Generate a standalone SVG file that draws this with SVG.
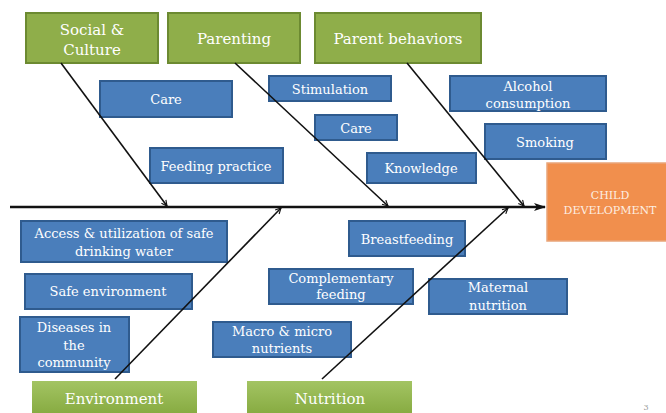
<svg xmlns="http://www.w3.org/2000/svg" width="666" height="413" viewBox="0 0 666 413">
<defs>
<linearGradient id="gg" x1="0" y1="0" x2="0" y2="1">
<stop offset="0" stop-color="#a3c463"/>
<stop offset="1" stop-color="#86aa40"/>
</linearGradient>
<marker id="ah" viewBox="0 0 10 10" refX="9" refY="5" markerWidth="7" markerHeight="7" orient="auto" markerUnits="userSpaceOnUse">
<path d="M1,1 L9,5 L1,9" fill="none" stroke="#111" stroke-width="1.6"/>
</marker>
<marker id="sp" viewBox="0 0 12 10" refX="11" refY="5" markerWidth="12" markerHeight="10" orient="auto" markerUnits="userSpaceOnUse">
<path d="M0,1 L12,5 L0,9 L3,5 Z" fill="#111"/>
</marker>
</defs>
<style>
.g{fill:#8fae4a;stroke:#6c8a31;stroke-width:2}
.gb{fill:url(#gg);stroke:none}
.b{fill:#4a7ebb;stroke:#2f5b8e;stroke-width:2}
.o{fill:#f18f4d;stroke:#e9a57a;stroke-width:1.5}
text{font-family:"DejaVu Serif",serif;fill:#fff;text-anchor:middle}
.t{font-size:13px}
.tg{font-size:15px}
.to{font-size:11px;fill:#fdeee2}
.ln{stroke:#111;stroke-width:1.6;fill:none}
</style>
<rect width="666" height="413" fill="#fff"/>
<g id="social"><rect class="g" x="26" y="13" width="132" height="50"/><text class="tg" x="92" y="35">Social &amp;</text><text class="tg" x="92" y="55">Culture</text></g>
<g id="parenting"><rect class="g" x="168" y="13" width="132" height="50"/><text class="tg" x="234" y="44">Parenting</text></g>
<g id="parentbeh"><rect class="g" x="315" y="13" width="166" height="50"/><text class="tg" x="398" y="44">Parent behaviors</text></g>
<g id="care1"><rect class="b" x="100" y="81" width="132" height="36"/><text class="t" x="166" y="104">Care</text></g>
<g id="feeding"><rect class="b" x="150" y="148" width="133" height="35"/><text class="t" x="216" y="171">Feeding practice</text></g>
<g id="stimulation"><rect class="b" x="269" y="76" width="122" height="25"/><text class="t" x="330" y="94">Stimulation</text></g>
<g id="care2"><rect class="b" x="315" y="115" width="82" height="25"/><text class="t" x="356" y="133">Care</text></g>
<g id="knowledge"><rect class="b" x="367" y="153" width="109" height="30"/><text class="t" x="421" y="173">Knowledge</text></g>
<g id="alcohol"><rect class="b" x="450" y="76" width="156" height="35"/><text class="t" x="528" y="91">Alcohol</text><text class="t" x="528" y="108">consumption</text></g>
<g id="smoking"><rect class="b" x="485" y="124" width="121" height="35"/><text class="t" x="545" y="147">Smoking</text></g>
<g id="child"><rect class="o" x="547" y="163" width="125" height="78"/><text class="to" x="610" y="199">CHILD</text><text class="to" x="610" y="214">DEVELOPMENT</text></g>
<g id="access"><rect class="b" x="21" y="221" width="206" height="41"/><text class="t" x="124" y="238">Access &amp; utilization of safe</text><text class="t" x="124" y="256">drinking water</text></g>
<g id="safeenv"><rect class="b" x="25" y="274" width="167" height="35"/><text class="t" x="108" y="296">Safe environment</text></g>
<g id="diseases"><rect class="b" x="20" y="317" width="109" height="55"/><text class="t" x="74" y="332">Diseases in</text><text class="t" x="74" y="350">the</text><text class="t" x="74" y="367">community</text></g>
<g id="environment"><rect class="gb" x="32" y="381" width="165" height="34"/><text class="tg" x="114" y="404">Environment</text></g>
<g id="nutrition"><rect class="gb" x="247" y="381" width="165" height="34"/><text class="tg" x="330" y="404">Nutrition</text></g>
<g id="complementary"><rect class="b" x="269" y="269" width="144" height="35"/><text class="t" x="341" y="283">Complementary</text><text class="t" x="341" y="299">feeding</text></g>
<g id="macro"><rect class="b" x="213" y="322" width="138" height="35"/><text class="t" x="282" y="336">Macro &amp; micro</text><text class="t" x="282" y="353">nutrients</text></g>
<g id="breastfeeding"><rect class="b" x="349" y="221" width="116" height="35"/><text class="t" x="407" y="244">Breastfeeding</text></g>
<g id="maternal"><rect class="b" x="429" y="279" width="138" height="35"/><text class="t" x="498" y="292">Maternal</text><text class="t" x="498" y="310">nutrition</text></g>
<text x="646" y="410" style="font-size:8px;fill:#999">3</text>
<g id="connectors">
<line x1="10" y1="207" x2="545" y2="207" stroke="#111" stroke-width="2.5" marker-end="url(#sp)"/>
<line class="ln" x1="61" y1="63" x2="167" y2="206" marker-end="url(#ah)"/>
<line class="ln" x1="235" y1="63" x2="388" y2="206" marker-end="url(#ah)"/>
<line class="ln" x1="407" y1="63" x2="524" y2="206" marker-end="url(#ah)"/>
<line class="ln" x1="115" y1="379" x2="281" y2="208" marker-end="url(#ah)"/>
<line class="ln" x1="322" y1="379" x2="508" y2="208" marker-end="url(#ah)"/>
</g>
</svg>
